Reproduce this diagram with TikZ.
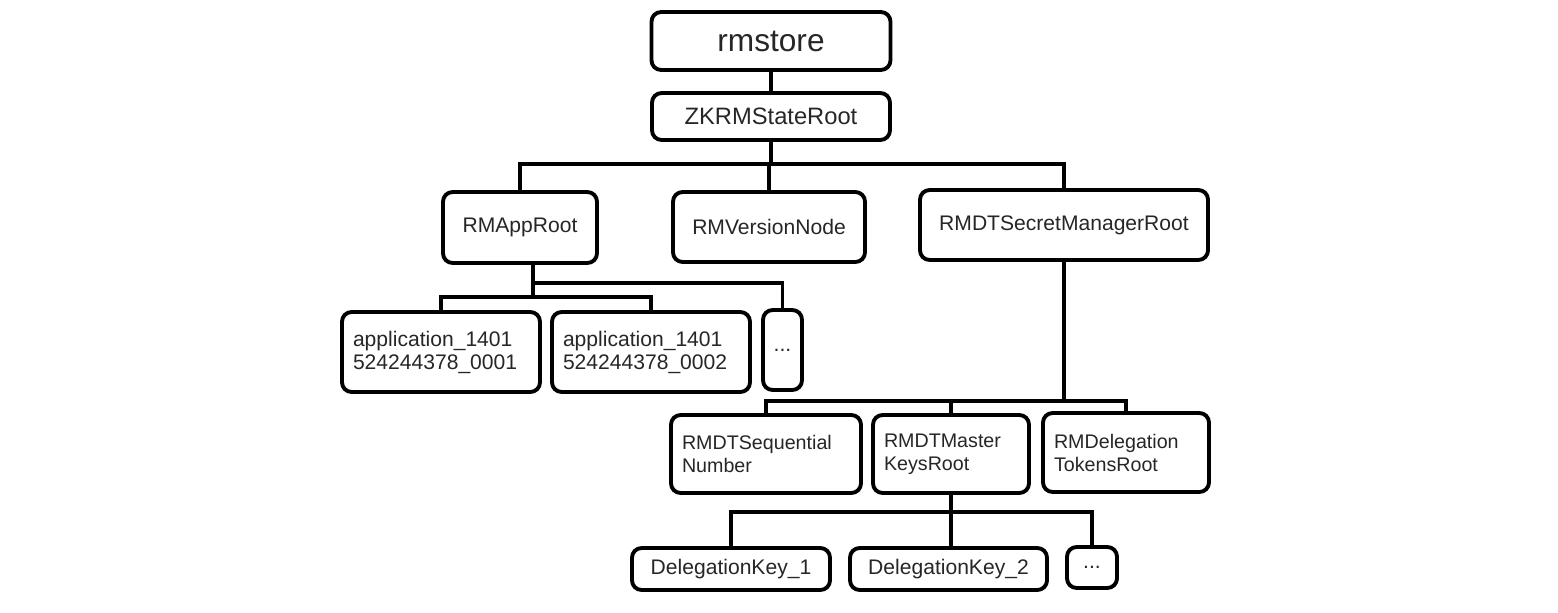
\documentclass[tikz,border=0pt]{standalone}
\usepackage{fontspec}
\setmainfont{Liberation Sans}
\usetikzlibrary{positioning}

\tikzset{
    box/.style={draw, line width=2.2pt, rounded corners=5.5pt, inner sep=0pt,
        text=black!85, font=\fontsize{12}{13.1}\selectfont},
    twoline/.style={box, align=left, inner xsep=0.22cm},
    link/.style={line width=1.8pt},
}

\begin{document}
\begin{tikzpicture}[x=0.02cm, y=-0.02cm]

    \useasboundingbox (0,0) rectangle (1558,612);

    % Top levels
    \node[box, minimum width=239*0.02cm, minimum height=58*0.02cm,
          font=\fontsize{18}{20}\selectfont] (rms) at (771,41) {rmstore};
    \node[box, minimum width=238*0.02cm, minimum height=47*0.02cm,
          font=\fontsize{13.5}{15}\selectfont] (zk) at (771,116.5) {ZKRMStateRoot};

    % Children of ZKRMStateRoot
    \node[box, minimum width=154*0.02cm, minimum height=71*0.02cm] (appr) at (520,227.5) {RMAppRoot};
    \node[box, minimum width=192*0.02cm, minimum height=70*0.02cm] (ver) at (769,227) {RMVersionNode};
    \node[box, minimum width=288*0.02cm, minimum height=70*0.02cm] (dtsm) at (1064,225) {RMDTSecretManagerRoot};

    % Applications
    \node[twoline, text width=176*0.02cm, minimum height=80*0.02cm] (app1) at (441,352)
        {application\_1401\\524244378\_0001};
    \node[twoline, text width=176*0.02cm, minimum height=80*0.02cm] (app2) at (651,352)
        {application\_1401\\524244378\_0002};
    \node[box, minimum width=39*0.02cm, minimum height=80*0.02cm] (appd) at (782.5,350) {...};

    % Secret manager children
    \node[twoline, text width=168*0.02cm, minimum height=78*0.02cm,
          font=\fontsize{11.2}{13.1}\selectfont] (seq) at (766,454) {RMDTSequential\\Number};
    \node[twoline, text width=134*0.02cm, minimum height=78*0.02cm,
          font=\fontsize{11.2}{13.1}\selectfont] (mkr) at (951,454) {RMDTMaster\\KeysRoot};
    \node[twoline, text width=144*0.02cm, minimum height=79*0.02cm,
          font=\fontsize{11.2}{13.1}\selectfont] (dtr) at (1126,452.5) {RMDelegation\\TokensRoot};

    % Delegation keys
    \node[box, minimum width=198*0.02cm, minimum height=42*0.02cm] (dk1) at (731,569) {DelegationKey\_1};
    \node[box, minimum width=197*0.02cm, minimum height=42*0.02cm] (dk2) at (948.5,569) {DelegationKey\_2};
    \node[box, minimum width=50*0.02cm, minimum height=41*0.02cm] (dkd) at (1092,567.5) {...};

    % Junction points
    \coordinate (topj) at (770,164);
    \coordinate (appj) at (533,297);
    \coordinate (appk) at (533,283);
    \coordinate (dtj) at (1063,401);
    \coordinate (keyj) at (951,512);

    % Connectors
    \draw[link] (rms.south) -- (zk.north);
    \draw[link] (zk.south) -- (zk.south |- topj);
    \draw[link] (appr.north) |- (dtsm.north |- topj) -- (dtsm.north);
    \draw[link] (ver.north) -- (ver.north |- topj);

    \draw[link] (appr.south -| appj) -- (appj);
    \draw[link] (app1.north) |- (app2.north |- appj) -- (app2.north);
    \draw[link] (appk) -| (appd.north);

    \draw[link] (dtsm.south) -- (dtsm.south |- dtj);
    \draw[link] (seq.north) |- (dtr.north |- dtj) -- (dtr.north);
    \draw[link] (mkr.north) -- (mkr.north |- dtj);

    \draw[link] (mkr.south) -- (keyj);
    \draw[link] (dk1.north) |- (dkd.north |- keyj) -- (dkd.north);
    \draw[link] (keyj) -- (keyj |- dk2.north);

\end{tikzpicture}
\end{document}
